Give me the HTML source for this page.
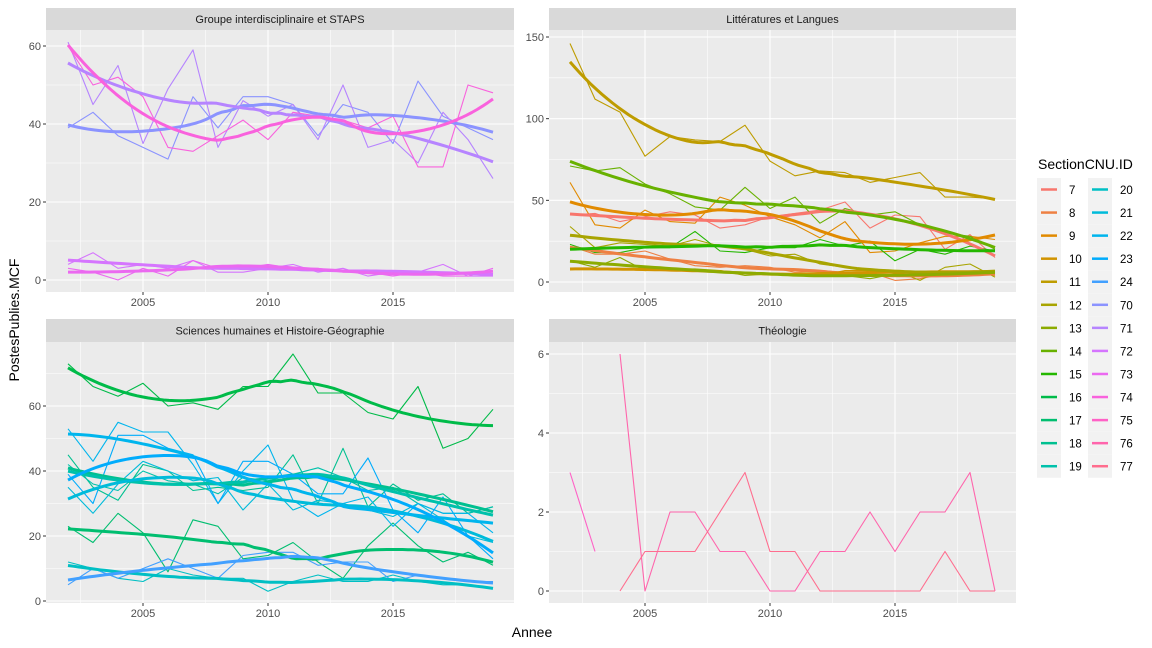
<!DOCTYPE html>
<html><head><meta charset="utf-8">
<style>
html,body{margin:0;padding:0;background:#fff;}
svg{display:block;font-family:"Liberation Sans",sans-serif;}
</style></head>
<body>
<svg id="chart" width="1152" height="648" viewBox="0 0 1152 648" xmlns="http://www.w3.org/2000/svg">
<rect width="1152" height="648" fill="#fff"/>
<text x="532" y="637" font-size="14" fill="#000" text-anchor="middle">Annee</text>
<text x="0" y="0" font-size="14" fill="#000" text-anchor="middle" transform="translate(19,320) rotate(-90)">PostesPublies.MCF</text>
<text x="1038" y="169" font-size="14" fill="#000">SectionCNU.ID</text>
</svg>
<script>
// ---- data ----
const years = [2002,2003,2004,2005,2006,2007,2008,2009,2010,2011,2012,2013,2014,2015,2016,2017,2018,2019];
const levels = ["7","8","9","10","11","12","13","14","15","16","17","18","19","20","21","22","23","24","70","71","72","73","74","75","76","77"];
const panelTitles = ["Groupe interdisciplinaire et STAPS","Littératures et Langues","Sciences humaines et Histoire-Géographie","Théologie"];
// values per section (null = missing)
const s7  = [41,42,37,40,43,41,33,35,40,42,44,49,33,41,40,20,29,15];
const s8  = [22,17,17,19,14,10,9,10,9,6,7,6,6,1,2,5,6,4];
const s9  = [61,35,33,44,37,36,52,47,40,35,27,37,18,19,24,28,28,26];
const s10 = [8,8,8,7,8,7,7,5,5,4,4,7,7,6,5,6,6,7];
const s11 = [146,112,104,77,89,87,86,96,74,65,68,67,61,64,67,52,52,51];
const s12 = [34,21,24,23,22,26,22,20,16,17,11,9,8,7,1,9,11,3];
const s13 = [13,9,15,7,8,8,7,4,5,5,4,4,2,5,6,4,5,6];
const s14 = [71,68,70,60,54,46,44,58,45,52,36,45,41,43,35,30,28,20];
const s15 = [23,18,18,21,21,31,19,18,21,21,26,22,25,13,20,17,22,19];
const s16 = [73,66,63,67,60,61,59,66,66,76,64,64,58,56,66,47,50,59];
const s17 = [23,18,27,21,9,25,23,13,14,18,12,7,17,24,17,12,15,11];
const s18 = [45,35,31,42,40,34,35,34,35,45,30,47,29,36,31,33,27,29];
const s19 = [42,36,34,40,37,36,33,38,37,39,41,38,34,35,30,27,27,29];
const s20 = [12,10,7,6,10,8,7,7,3,6,8,6,6,8,6,5,5,4];
const s21 = [35,27,36,43,40,37,38,28,36,28,31,30,28,26,30,25,20,18];
const s22 = [53,43,55,52,52,42,30,40,48,31,26,30,32,23,30,27,27,21];
const s23 = [39,30,51,51,47,45,30,43,43,39,33,33,44,28,21,32,20,13];
const s24 = [5,10,7,10,13,10,7,14,15,15,11,12,12,6,8,7,6,6];
const s70 = [39,43,37,34,31,47,39,47,47,45,37,45,43,35,51,42,39,36];
const s71 = [61,45,55,35,49,59,34,46,42,45,36,50,34,36,30,43,36,26];
const s72 = [4,7,3,4,3,5,2,2,3,4,2,3,1,2,2,4,1,1];
const s73 = [3,2,0,3,1,5,3,3,4,3,3,2,2,1,2,1,1,3];
const s74 = [60,50,52,47,34,33,37,41,36,43,42,41,39,42,29,29,50,48];
const s75 = [3,1,null,null,null,null,null,null,null,null,null,null,null,null,null,null,null,null];
const s76 = [null,null,6,0,2,2,1,1,0,0,1,1,2,1,2,2,3,0];
const s77 = [null,null,0,1,1,1,2,3,1,1,0,0,0,0,0,1,0,0];
const panelSeries = [
  [["70",s70],["71",s71],["72",s72],["73",s73],["74",s74]],
  [["7",s7],["8",s8],["9",s9],["10",s10],["11",s11],["12",s12],["13",s13],["14",s14],["15",s15]],
  [["16",s16],["17",s17],["18",s18],["19",s19],["20",s20],["21",s21],["22",s22],["23",s23],["24",s24]],
  [["75",s75],["76",s76],["77",s77]]
];
const yTicks = [[0,20,40,60],[0,50,100,150],[0,20,40,60],[0,2,4,6]];
const yMinor = [[10,30,50],[25,75,125],[10,30,50,70],[1,3,5]];
const xTicks = [2005,2010,2015];
const xMinor = [2002.5,2007.5,2012.5,2017.5];

// ---- layout ----
const NS="http://www.w3.org/2000/svg";
const svg=document.getElementById('chart');
const panels=[
 {x0:46,x1:514,y0:30,y1:292,sy:8, ax:[2002,68,2019,493], ay:[0,280,60,46]},
 {x0:549,x1:1016,y0:30,y1:292,sy:8, ax:[2002,570,2019,995], ay:[0,282,150,37]},
 {x0:46,x1:514,y0:342,y1:603,sy:319, ax:[2002,68,2019,493], ay:[0,601,60,406]},
 {x0:549,x1:1016,y0:342,y1:603,sy:319, ax:[2002,570,2019,995], ay:[0,591,6,354]}
];
function lin(a){return v=>a[1]+(v-a[0])*(a[3]-a[1])/(a[2]-a[0]);}
function mk(tag,attrs,parent){const e=document.createElementNS(NS,tag);for(const k in attrs)e.setAttribute(k,attrs[k]);(parent||svg).appendChild(e);return e;}

// ggplot hue palette
function hcl(h,c,l){
  const hr=h*Math.PI/180,u=c*Math.cos(hr),v=c*Math.sin(hr);
  const Xn=95.047,Yn=100,Zn=108.883;
  const un=4*Xn/(Xn+15*Yn+3*Zn),vn=9*Yn/(Xn+15*Yn+3*Zn);
  const Y=Yn*(l>8?Math.pow((l+16)/116,3):l/903.3);
  const up=u/(13*l)+un,vp=v/(13*l)+vn;
  const X=9*Y*up/(4*vp),Z=Y*(12-3*up-20*vp)/(4*vp);
  const x=X/100,y=Y/100,z=Z/100;
  let r=3.240479*x-1.53715*y-0.498535*z,g=-0.969256*x+1.875992*y+0.041556*z,b=0.055648*x-0.204043*y+1.057311*z;
  const gam=t=>{t=t<=0.0031308?12.92*t:1.055*Math.pow(t,1/2.4)-0.055;return Math.round(255*Math.max(0,Math.min(1,t)));};
  return `rgb(${gam(r)},${gam(g)},${gam(b)})`;
}
const colors={};
levels.forEach((lv,i)=>{colors[lv]=hcl(15+i*360/levels.length,100,65);});

// loess (span .75, degree 2)
function loess(xs,ys,xe){
  const n=xs.length,q=Math.floor(0.75*n);
  const d=xs.map(x=>Math.abs(x-xe)).slice().sort((a,b)=>a-b);
  let h=d[Math.max(0,q-1)];if(h<=0)h=1;
  let S=[0,0,0,0,0],T=[0,0,0];
  for(let i=0;i<n;i++){const r=Math.abs(xs[i]-xe)/h;if(r>=1)continue;const w=Math.pow(1-r*r*r,3);const dx=xs[i]-xe;
    let p=1;for(let k=0;k<5;k++){S[k]+=w*p;p*=dx;}
    p=1;for(let k=0;k<3;k++){T[k]+=w*p*ys[i];p*=dx;}}
  const A=[[S[0],S[1],S[2]],[S[1],S[2],S[3]],[S[2],S[3],S[4]]];
  const det=m=>m[0][0]*(m[1][1]*m[2][2]-m[1][2]*m[2][1])-m[0][1]*(m[1][0]*m[2][2]-m[1][2]*m[2][0])+m[0][2]*(m[1][0]*m[2][1]-m[1][1]*m[2][0]);
  const D=det(A);if(Math.abs(D)<1e-12)return null;
  const A0=[[T[0],S[1],S[2]],[T[1],S[2],S[3]],[T[2],S[3],S[4]]];
  return det(A0)/D;
}

panels.forEach((P,pi)=>{
  const g=mk('g',{});
  
  
  const X=lin(P.ax),Y=lin(P.ay);
  const bg=mk('rect',{x:P.x0,y:P.y0,width:P.x1-P.x0,height:P.y1-P.y0,fill:'#EBEBEB'},g);
  
  
  const strip=mk('rect',{x:P.x0,y:P.sy,width:P.x1-P.x0,height:P.y0-P.sy,fill:'#D9D9D9'},g);
  
  
  const st=mk('text',{x:(P.x0+P.x1)/2,y:(P.sy+P.y0)/2+4,'font-size':11,fill:'#1A1A1A','text-anchor':'middle'},g);
  st.textContent=panelTitles[pi];
  
  
  yMinor[pi].forEach(v=>{const yy=Y(v);if(yy>P.y0&&yy<P.y1){const l=mk('line',{x1:P.x0,x2:P.x1,y1:yy,y2:yy,stroke:'#fff','stroke-width':0.55},g);}});
  xMinor.forEach(v=>{const xx=X(v);const l=mk('line',{x1:xx,x2:xx,y1:P.y0,y2:P.y1,stroke:'#fff','stroke-width':0.55},g);});
  yTicks[pi].forEach(v=>{const yy=Y(v);
    const l=mk('line',{x1:P.x0,x2:P.x1,y1:yy,y2:yy,stroke:'#fff','stroke-width':1.1},g);
    
    const tk=mk('line',{x1:P.x0-3,x2:P.x0,y1:yy,y2:yy,stroke:'#333','stroke-width':1},g);
    
    const t=mk('text',{x:P.x0-5,y:yy+4,'font-size':11,fill:'#4D4D4D','text-anchor':'end'},g);t.textContent=v;
    });
  xTicks.forEach(v=>{const xx=X(v);
    const l=mk('line',{x1:xx,x2:xx,y1:P.y0,y2:P.y1,stroke:'#fff','stroke-width':1.1},g);
    
    const tk=mk('line',{x1:xx,x2:xx,y1:P.y1,y2:P.y1+3,stroke:'#333','stroke-width':1},g);
    
    const t=mk('text',{x:xx,y:P.y1+14,'font-size':11,fill:'#4D4D4D','text-anchor':'middle'},g);t.textContent=v;
    });
  // raw lines
  panelSeries[pi].forEach(([lv,vals])=>{
    let d='',pen=false;
    vals.forEach((v,i)=>{if(v===null){pen=false;return;}d+=(pen?'L':'M')+X(years[i]).toFixed(1)+','+Y(v).toFixed(1);pen=true;});
    const p=mk('path',{d:d,fill:'none',stroke:colors[lv],'stroke-width':1.1,'stroke-linejoin':'round'},g);
    
    
  });
  // smooth lines
  if(pi<3){
    panelSeries[pi].forEach(([lv,vals])=>{
      const xs=[],ys=[];vals.forEach((v,i)=>{if(v!==null){xs.push(years[i]);ys.push(v);}});
      if(xs.length<6)return;
      let d='';const a=xs[0],b=xs[xs.length-1];
      for(let k=0;k<=80;k++){const xe=a+(b-a)*k/80;const ye=loess(xs,ys,xe);if(ye===null)continue;d+=(d?'L':'M')+X(xe).toFixed(1)+','+Y(ye).toFixed(1);}
      const p=mk('path',{d:d,fill:'none',stroke:colors[lv],'stroke-width':3,'stroke-linecap':'butt','stroke-linejoin':'round'},g);
      
      
    });
  }
});

// legend
levels.forEach((lv,i)=>{
  const col=i<13?0:1,row=i%13;
  const kx=col===0?1037:1088,ky=178+row*23.06;
  const g=mk('g',{});
  
  
  mk('rect',{x:kx,y:ky,width:24,height:23.06,fill:'#F2F2F2'},g);
  mk('line',{x1:kx+4,x2:kx+20,y1:ky+11.5,y2:ky+11.5,stroke:colors[lv],'stroke-width':2.5},g);
  const t=mk('text',{x:kx+32,y:ky+16,'font-size':11.5,fill:'#000'},g);t.textContent=lv;
});
</script>
</body></html>
